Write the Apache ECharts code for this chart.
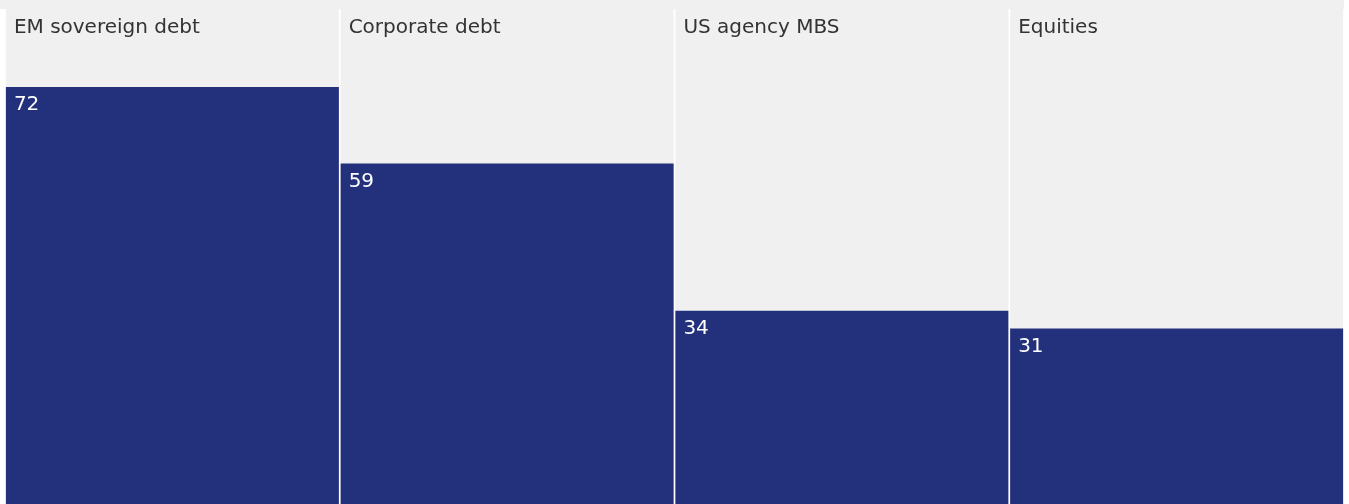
<!DOCTYPE html>
<html>
<head>
<meta charset="utf-8">
<style>
  html, body { margin: 0; padding: 0; background: #ffffff; overflow: hidden; }
  /* the plot runs a few pixels past the bottom edge of the window */
  #chart { width: 1349px; height: 511px; }
</style>
<script src="https://cdn.jsdelivr.net/npm/echarts@6/dist/echarts.min.js"></script>
</head>
<body>
<div id="chart"></div>
<script>
// Asset classes and their values
const categories = ['EM sovereign debt', 'Corporate debt', 'US agency MBS', 'Equities'];
const values = [72, 59, 34, 31];

// Top of the value scale (the grey panels fill up to here)
const yMax = 85.4;

const NAVY = '#23317d';
const PANEL = '#f0f0f0';
const FONT = '"DejaVu Sans", "Noto Sans", sans-serif';

const chart = echarts.init(document.getElementById('chart'), null, { renderer: 'canvas' });

chart.setOption({
  animation: false,
  backgroundColor: '#ffffff',
  graphic: [{
    type: 'rect',
    left: 0, top: 0,
    shape: { width: 1344, height: 9 },
    style: { fill: PANEL },
    z: -1
  }],
  grid: { left: 5, right: 5, top: 8, bottom: 0, containLabel: false },
  xAxis: {
    type: 'category',
    data: categories,
    axisLine: { show: false },
    axisTick: { show: false },
    axisLabel: { show: false },
    splitLine: { show: false }
  },
  yAxis: {
    type: 'value',
    min: 0,
    max: yMax,
    show: false
  },
  series: [
    {
      // grey panel per category, with the category name in its top-left corner
      name: 'panel',
      type: 'bar',
      data: categories.map(() => yMax),
      barWidth: 333,
      barGap: '-100%',
      itemStyle: { color: PANEL },
      silent: true,
      label: {
        show: true,
        position: [8, 10],
        formatter: (p) => p.name,
        color: '#333333',
        fontFamily: FONT,
        fontSize: 20
      },
      z: 1
    },
    {
      name: 'value',
      type: 'bar',
      data: values,
      barWidth: 333,
      barGap: '-100%',
      itemStyle: { color: NAVY },
      label: {
        show: true,
        position: [8, 8],
        formatter: (p) => String(p.value),
        color: '#ffffff',
        fontFamily: FONT,
        fontSize: 20
      },
      z: 2
    }
  ]
});
</script>
</body>
</html>
